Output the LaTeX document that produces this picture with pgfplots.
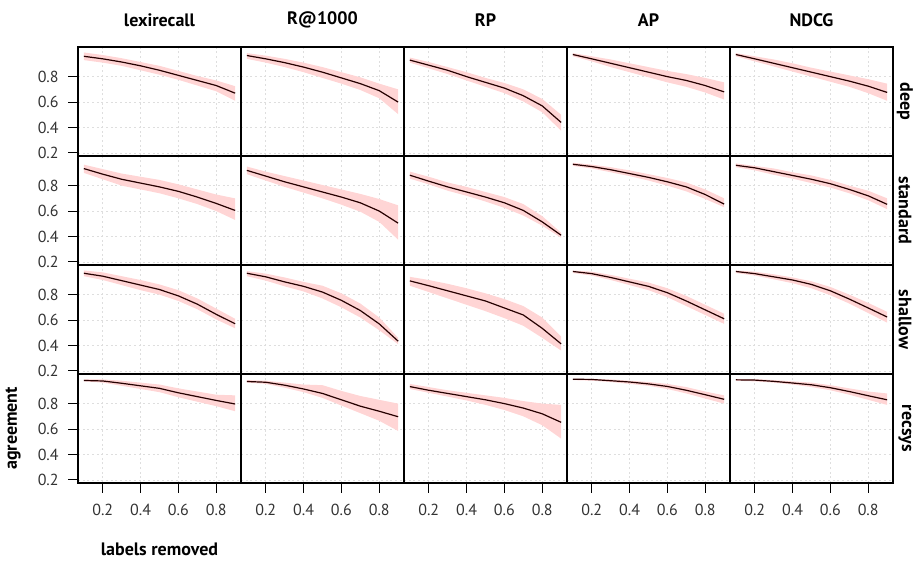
\documentclass[border=0pt]{standalone}
\usepackage{fontspec}
\setmainfont{PT Sans}
\usepackage{pgfplots}
\usepackage{pgfplotstable}
\pgfplotsset{compat=1.18}
\usepgfplotslibrary{groupplots,fillbetween}
\usetikzlibrary{calc}
\definecolor{ribbon}{RGB}{255,213,213}
\definecolor{gridc}{RGB}{222,222,222}

% deep
\pgfplotstableread{
x y lo hi
0.1 0.960 0.930 0.990
0.2 0.940 0.910 0.970
0.3 0.915 0.885 0.945
0.4 0.885 0.850 0.915
0.5 0.850 0.815 0.885
0.6 0.810 0.775 0.845
0.7 0.770 0.730 0.805
0.8 0.730 0.685 0.770
0.9 0.670 0.610 0.725
}\dA
\pgfplotstableread{
x y lo hi
0.1 0.966 0.940 0.985
0.2 0.940 0.910 0.965
0.3 0.910 0.875 0.940
0.4 0.875 0.835 0.910
0.5 0.835 0.790 0.875
0.6 0.790 0.745 0.835
0.7 0.745 0.695 0.795
0.8 0.690 0.630 0.745
0.9 0.600 0.505 0.700
}\dB
\pgfplotstableread{
x y lo hi
0.1 0.930 0.910 0.950
0.2 0.890 0.865 0.915
0.3 0.850 0.820 0.875
0.4 0.800 0.770 0.835
0.5 0.755 0.720 0.790
0.6 0.710 0.670 0.750
0.7 0.650 0.605 0.700
0.8 0.570 0.520 0.625
0.9 0.440 0.375 0.500
}\dC
\pgfplotstableread{
x y lo hi
0.1 0.974 0.960 0.985
0.2 0.940 0.920 0.960
0.3 0.905 0.875 0.935
0.4 0.870 0.835 0.905
0.5 0.835 0.795 0.875
0.6 0.800 0.755 0.845
0.7 0.770 0.720 0.820
0.8 0.730 0.675 0.790
0.9 0.680 0.620 0.755
}\dD
\pgfplotstableread{
x y lo hi
0.1 0.974 0.960 0.985
0.2 0.940 0.920 0.960
0.3 0.905 0.880 0.935
0.4 0.870 0.840 0.905
0.5 0.835 0.800 0.870
0.6 0.800 0.760 0.840
0.7 0.765 0.720 0.810
0.8 0.725 0.670 0.780
0.9 0.676 0.610 0.745
}\dE
% standard
\pgfplotstableread{
x y lo hi
0.1 0.934 0.900 0.965
0.2 0.890 0.850 0.930
0.3 0.850 0.800 0.895
0.4 0.820 0.770 0.870
0.5 0.790 0.740 0.845
0.6 0.755 0.700 0.810
0.7 0.710 0.655 0.770
0.8 0.660 0.600 0.730
0.9 0.605 0.530 0.700
}\sA
\pgfplotstableread{
x y lo hi
0.1 0.920 0.890 0.950
0.2 0.875 0.840 0.910
0.3 0.830 0.790 0.875
0.4 0.790 0.745 0.840
0.5 0.750 0.700 0.805
0.6 0.710 0.650 0.770
0.7 0.665 0.595 0.735
0.8 0.600 0.515 0.695
0.9 0.505 0.375 0.645
}\sB
\pgfplotstableread{
x y lo hi
0.1 0.882 0.855 0.910
0.2 0.835 0.810 0.870
0.3 0.790 0.760 0.825
0.4 0.750 0.720 0.790
0.5 0.710 0.675 0.750
0.6 0.665 0.625 0.710
0.7 0.605 0.565 0.655
0.8 0.515 0.485 0.560
0.9 0.410 0.390 0.430
}\sC
\pgfplotstableread{
x y lo hi
0.1 0.968 0.955 0.980
0.2 0.950 0.935 0.965
0.3 0.925 0.905 0.945
0.4 0.895 0.875 0.920
0.5 0.865 0.840 0.890
0.6 0.830 0.800 0.860
0.7 0.790 0.755 0.825
0.8 0.730 0.695 0.770
0.9 0.655 0.630 0.700
}\sD
\pgfplotstableread{
x y lo hi
0.1 0.960 0.945 0.975
0.2 0.940 0.920 0.955
0.3 0.910 0.885 0.935
0.4 0.880 0.855 0.905
0.5 0.850 0.820 0.880
0.6 0.815 0.785 0.845
0.7 0.770 0.740 0.800
0.8 0.720 0.685 0.760
0.9 0.653 0.615 0.700
}\sE
% shallow
\pgfplotstableread{
x y lo hi
0.1 0.968 0.945 0.990
0.2 0.945 0.915 0.975
0.3 0.910 0.875 0.945
0.4 0.875 0.835 0.915
0.5 0.840 0.800 0.880
0.6 0.790 0.750 0.835
0.7 0.725 0.685 0.770
0.8 0.645 0.605 0.690
0.9 0.571 0.535 0.610
}\hA
\pgfplotstableread{
x y lo hi
0.1 0.968 0.945 0.985
0.2 0.940 0.910 0.965
0.3 0.900 0.865 0.935
0.4 0.865 0.825 0.900
0.5 0.820 0.770 0.870
0.6 0.755 0.700 0.810
0.7 0.675 0.620 0.730
0.8 0.570 0.520 0.620
0.9 0.434 0.410 0.460
}\hB
\pgfplotstableread{
x y lo hi
0.1 0.908 0.870 0.940
0.2 0.870 0.820 0.915
0.3 0.830 0.770 0.885
0.4 0.790 0.720 0.850
0.5 0.750 0.670 0.810
0.6 0.695 0.615 0.765
0.7 0.640 0.555 0.710
0.8 0.535 0.460 0.620
0.9 0.413 0.360 0.470
}\hC
\pgfplotstableread{
x y lo hi
0.1 0.982 0.970 0.990
0.2 0.965 0.950 0.980
0.3 0.935 0.915 0.955
0.4 0.900 0.875 0.925
0.5 0.865 0.835 0.895
0.6 0.815 0.780 0.850
0.7 0.750 0.710 0.790
0.8 0.680 0.640 0.720
0.9 0.610 0.570 0.650
}\hD
\pgfplotstableread{
x y lo hi
0.1 0.982 0.970 0.990
0.2 0.965 0.950 0.980
0.3 0.940 0.920 0.960
0.4 0.915 0.890 0.935
0.5 0.880 0.850 0.905
0.6 0.830 0.795 0.860
0.7 0.765 0.730 0.800
0.8 0.695 0.655 0.735
0.9 0.624 0.580 0.665
}\hE
% recsys
\pgfplotstableread{
x y lo hi
0.1 0.982 0.975 0.990
0.2 0.978 0.965 0.990
0.3 0.960 0.940 0.980
0.4 0.940 0.915 0.965
0.5 0.920 0.890 0.950
0.6 0.885 0.850 0.920
0.7 0.855 0.815 0.895
0.8 0.825 0.780 0.870
0.9 0.797 0.740 0.865
}\rA
\pgfplotstableread{
x y lo hi
0.1 0.974 0.965 0.985
0.2 0.968 0.955 0.980
0.3 0.945 0.925 0.965
0.4 0.915 0.890 0.950
0.5 0.880 0.845 0.945
0.6 0.830 0.785 0.900
0.7 0.780 0.725 0.860
0.8 0.740 0.665 0.830
0.9 0.697 0.585 0.800
}\rB
\pgfplotstableread{
x y lo hi
0.1 0.934 0.915 0.955
0.2 0.905 0.885 0.930
0.3 0.880 0.855 0.905
0.4 0.855 0.825 0.885
0.5 0.830 0.790 0.865
0.6 0.800 0.750 0.845
0.7 0.765 0.700 0.820
0.8 0.720 0.630 0.800
0.9 0.653 0.525 0.790
}\rC
\pgfplotstableread{
x y lo hi
0.1 0.992 0.985 0.995
0.2 0.990 0.980 0.995
0.3 0.980 0.970 0.990
0.4 0.970 0.955 0.980
0.5 0.955 0.940 0.970
0.6 0.935 0.915 0.955
0.7 0.905 0.880 0.930
0.8 0.870 0.840 0.895
0.9 0.834 0.800 0.865
}\rD
\pgfplotstableread{
x y lo hi
0.1 0.987 0.980 0.993
0.2 0.985 0.975 0.993
0.3 0.975 0.965 0.985
0.4 0.962 0.950 0.975
0.5 0.948 0.930 0.965
0.6 0.925 0.905 0.945
0.7 0.895 0.870 0.920
0.8 0.862 0.830 0.895
0.9 0.830 0.790 0.880
}\rE

\newcommand{\band}[2]{%
  \addplot[name path=U#2, draw=none, forget plot] table[x=x,y=hi]{#1};
  \addplot[name path=L#2, draw=none, forget plot] table[x=x,y=lo]{#1};
  \addplot[fill=ribbon, draw=none, forget plot] fill between[of=U#2 and L#2];
  \addplot[line width=0.9pt, color=black!85!red, forget plot] table[x=x,y=y]{#1};
}
\newcommand{\lab}{\fontsize{12}{14}\selectfont}
\newcommand{\blab}{\fontsize{13.5}{16}\selectfont\bfseries}

\begin{document}
\begin{tikzpicture}
\begin{groupplot}[
  group style={group size=5 by 4, horizontal sep=0pt, vertical sep=0pt,
    group name=G, xticklabels at=edge bottom, yticklabels at=edge left},
  scale only axis, width=122.25pt, height=81.75pt,
  xmin=0.069, xmax=0.931, ymin=0.176, ymax=1.033,
  xtick={0.2,0.4,0.6,0.8}, ytick={0.2,0.4,0.6,0.8},
  grid=major, grid style={gridc, dash pattern=on 1.5pt off 2pt, line width=0.6pt},
  axis line style={line width=0.9pt},
  xtick pos=bottom, ytick pos=left, tick align=outside, major tick length=7.5pt,
  xtick style={draw=none}, ytick style={draw=none},
  ticklabel style={font=\lab, text=black!80},
  yticklabel style={xshift=-3.5pt},
  xticklabel style={yshift=-4.5pt},
  /pgf/number format/assume math mode=true,
  /pgf/number format/fixed, /pgf/number format/fixed zerofill,
  /pgf/number format/precision=1,
]
\nextgroupplot[ytick style={draw=black, line width=0.75pt}] \band{\dA}{a1}
\nextgroupplot \band{\dB}{a2}
\nextgroupplot \band{\dC}{a3}
\nextgroupplot \band{\dD}{a4}
\nextgroupplot \band{\dE}{a5}
\nextgroupplot[ytick style={draw=black, line width=0.75pt}] \band{\sA}{b1}
\nextgroupplot \band{\sB}{b2}
\nextgroupplot \band{\sC}{b3}
\nextgroupplot \band{\sD}{b4}
\nextgroupplot \band{\sE}{b5}
\nextgroupplot[ytick style={draw=black, line width=0.75pt}] \band{\hA}{c1}
\nextgroupplot \band{\hB}{c2}
\nextgroupplot \band{\hC}{c3}
\nextgroupplot \band{\hD}{c4}
\nextgroupplot \band{\hE}{c5}
\nextgroupplot[ytick style={draw=black, line width=0.75pt}, xtick style={draw=black, line width=0.75pt}] \band{\rA}{d1}
\nextgroupplot[xtick style={draw=black, line width=0.75pt}] \band{\rB}{d2}
\nextgroupplot[xtick style={draw=black, line width=0.75pt}] \band{\rC}{d3}
\nextgroupplot[xtick style={draw=black, line width=0.75pt}] \band{\rD}{d4}
\nextgroupplot[xtick style={draw=black, line width=0.75pt}] \band{\rE}{d5}
\end{groupplot}
% column titles
\foreach \c/\t in {1/lexirecall, 2/R@1000, 3/RP, 4/AP, 5/NDCG}
  \node[font=\blab] at ($(G c\c r1.north)+(0,20.25pt)$) {\t};
% row strips
\foreach \r/\t in {1/deep, 2/standard, 3/shallow, 4/recsys}
  \node[font=\blab, rotate=-90] at ($(G c5r\r.east)+(9pt,0)$) {\t};
\node[font=\blab, rotate=90] at ($(G c1r4.west)+(-48.75pt,0)$) {agreement};
\node[font=\blab] at ($(G c1r4.south)+(0,-49.5pt)$) {labels removed};
\pgfresetboundingbox
\path[use as bounding box] ($(G c1r1.north west)+(-58.5pt,35.25pt)$) rectangle +(687pt,-421.5pt);
\end{tikzpicture}
\end{document}
